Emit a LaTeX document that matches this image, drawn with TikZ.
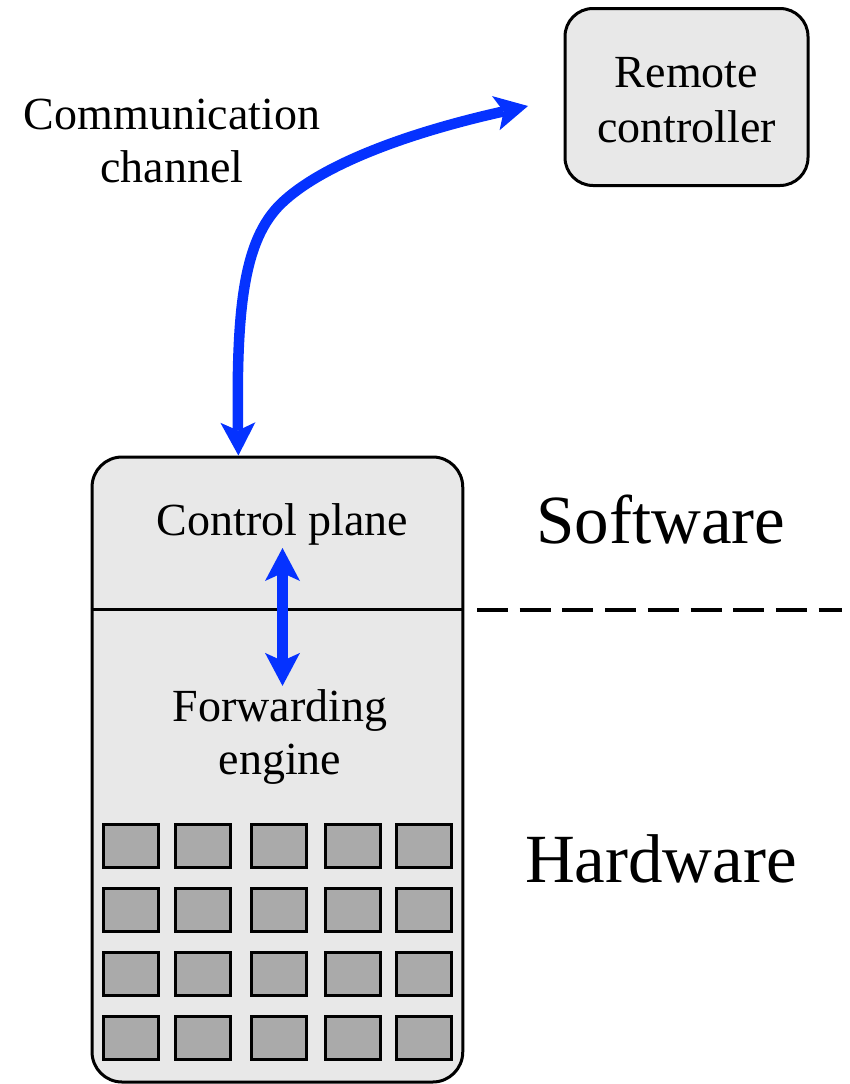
\documentclass[tikz,border=0pt]{standalone}
\usepackage{fontspec}
\setmainfont{Liberation Serif}
\usetikzlibrary{arrows.meta}
\definecolor{chanblue}{RGB}{5,50,255}
\definecolor{boxgray}{RGB}{232,232,232}
\definecolor{cellgray}{RGB}{170,170,170}
\begin{document}
\begin{tikzpicture}[x=1pt,y=-1pt,
  txt/.style={font=\fontsize{46}{53}\selectfont, inner sep=0pt, align=center},
  bigtxt/.style={font=\fontsize{69}{80}\selectfont, inner sep=0pt},
  panel/.style={draw=black, line width=3pt, fill=boxgray, rounded corners=30pt, inner sep=0pt},
  remotebox/.style={draw=black, line width=3pt, fill=boxgray, rounded corners=28pt, inner sep=0pt, align=center,
    font=\fontsize{46}{55}\selectfont, minimum width=243pt, minimum height=177pt},
  cell/.style={draw=black, line width=3pt, fill=cellgray, minimum width=55pt, minimum height=43pt, inner sep=0pt},
  blueheads/.style={draw=chanblue, line width=10.5pt,
    {Stealth[length=33pt,width=35pt,inset=8pt,line width=0pt]}-{Stealth[length=33pt,width=35pt,inset=8pt,line width=0pt]}},
  divline/.style={line width=3pt},
  dashline/.style={line width=3.3pt, dash pattern=on 31pt off 11.7pt}
]
\useasboundingbox (0,0) rectangle (850,1084);

% main device box
\node[panel, minimum width=370.7pt, minimum height=625pt] (sw) at (277.4,769.5) {};
\draw[divline] (sw.west |- 0,609) -- (sw.east |- 0,609);

% hardware cells
\foreach \cx [count=\i] in {131,203,279,352.5,424}{
  \foreach \cy [count=\j] in {845.5,909.5,974,1037.5}{
    \node[cell] (cell-\i-\j) at (\cx,\cy) {};
  }
}

% remote controller
\node[remotebox] (rc) at (686.5,97) {\rule{0pt}{37pt}Remote\\controller};

% texts
\node[txt] (cc) at (172,141) {Communication\\channel};
\node[txt, anchor=base] (cp) at (282.5,535) {Control plane};
\node[txt] (fe) at (280,737) {Forwarding\\engine};
\node[bigtxt, anchor=base] (softlbl) at (661,543) {Software};
\node[bigtxt, anchor=base] (hardlbl) at (661,882) {Hardware};

% dashed separator
\coordinate (dl) at (477,610);
\coordinate (dr) at (842,610);
\draw[dashline] (dl) -- (dr);

% communication channel
\coordinate (ctop) at (528,106);
\draw[blueheads] ([xshift=-39pt]sw.north) .. controls (236,300) and (245,235) .. (285,200)
   .. controls (330,160) and (420,130) .. (ctop);

% control plane <-> forwarding engine
\draw[blueheads, shorten <=3pt, shorten >=3.5pt] (cp.south) -- (cp.south |- fe.north);
\end{tikzpicture}
\end{document}
